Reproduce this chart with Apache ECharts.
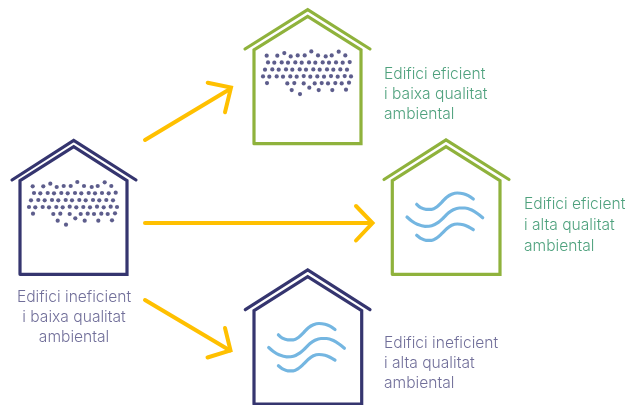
<!DOCTYPE html>
<html><head><meta charset="utf-8">
<style>html,body{margin:0;padding:0;background:#fff}#c{width:643px;height:405px}</style>
<script src="https://cdn.jsdelivr.net/npm/echarts@6/dist/echarts.min.js"></script>
</head><body><div id="c"></div>
<script>
var NAVY='#35356f',GREEN='#8fb23c',YELLOW='#ffc000',BLUE='#74b6e1',TXT_P='#4c4a80',TXT_G='#22895d';
// houses: [x,y] in the picture's units
var leftRoof=[[12,180],[73.7,140.3],[136,180]];
var leftWall=[[20,274.3],[20,180.7],[73.7,146.7],[127,180.7],[127,274.3],[20,274.3]];
var topRoof=[[245,49],[307.7,9.6],[370,49]];
var topWall=[[254,143.7],[254,50],[307.7,16.4],[361,50],[361,143.7],[254,143.7]];
var rightRoof=[[384,179.5],[446,139.8],[509,179.5]];
var rightWall=[[392.3,274.3],[392.3,180.7],[446,146.7],[500,180.7],[500,274.3],[392.3,274.3]];
var bottomRoof=[[245.3,309.7],[307.7,270],[370,309.7]];
var bottomWall=[[254,404],[254,310.7],[307.7,276.7],[361.7,310.7],[361.7,404],[254,404]];
// arrows
var arrowA=[[145,140],[230,89]];var arrowAHead=[[207.7,82.7],[231,87.5],[225,112.3]];
var arrowB=[[145,223],[371,223]];var arrowBHead=[[356,206],[372.5,223],[356,240.5]];
var arrowC=[[145,300],[230,350.5]];var arrowCHead=[[225,328],[230.5,350.5],[207.5,357.5]];
// dust dots, left house
var dotsLeft=[[32.7,186.3],[43.3,186.3],[50.3,183.7],[56.7,187],[63.7,186],[70.7,186],[77.3,182],[84,186],[91.7,187],[97.7,186],[104.7,182.3],[111.3,186],
[34,193],[40.3,193.3],[47.7,193],[54,193.3],[61.3,193],[67.7,193.3],[75,193],[81.3,193.3],[88.7,193],[95,193.3],[102,193],[108.7,193.3],[115.7,192.7],
[31,200.3],[38.3,200],[44.7,200.3],[52,200],[58.3,200.3],[65.7,200],[72,200.3],[79.3,200],[85.7,200.3],[93,200],[99.3,200.3],[106.3,200],[113,200.3],
[29,207],[35.3,207.3],[42.7,207],[49,207.3],[56.3,207],[62.7,207.3],[69.7,206.7],[76.3,207.3],[83.3,207],[90,207.3],[97,206.7],[103.7,207.3],[110.7,206.7],[117,207],
[33,213.7],[53.3,214],[60.3,213.7],[69.7,214],[80.7,214],[87.7,213.7],[94,214],[101.3,213.7],[107.7,214],[115,213.3],
[57.7,220.7],[75.3,218.3],[84.7,220.7],[98.3,220.7],[112,220.3],[66,224.7]];
// the same cloud, top house
var dotsTop=dotsLeft.map(function(p){return [p[0]+234,p[1]-130.6];});
// air waves, right house
var wave1=[[416.7,204.3],[420.7,207.7],[426,209.3],[431.7,209.3],[436.7,207],[441.7,202.3],[446.7,197.3],[451.7,194.3],[457.3,193],[463.3,193.7],[468.3,195.7],[473.3,199]];
var wave2=[[407,217],[411.7,221],[417.3,224.3],[425,226.3],[431.7,225.7],[438.3,222.3],[443.3,218],[448.3,213],[453.3,209.7],[459.3,208],[465,208],[471.7,210],[477.7,213.7],[482.7,217.7]];
var wave3=[[416.7,235.3],[420.7,238.3],[426,240.3],[431.7,240.3],[436.7,238],[441.7,233.7],[446.7,228.7],[451.7,225.3],[457.3,224],[463.3,224.7],[468.3,226.7],[473.3,229.7]];
var moved=function(a){return a.map(function(p){return [p[0]-138.3,p[1]+130.5];});};
// captions
var labels=[
 {x:74,y:297,t:'Edifici ineficient',c:TXT_P,a:'center'},{x:74,y:317,t:'i baixa qualitat',c:TXT_P,a:'center'},{x:74,y:337,t:'ambiental',c:TXT_P,a:'center'},
 {x:384,y:74,t:'Edifici eficient',c:TXT_G,a:'left'},{x:384,y:94,t:'i baixa qualitat',c:TXT_G,a:'left'},{x:384,y:114,t:'ambiental',c:TXT_G,a:'left'},
 {x:524,y:204,t:'Edifici eficient',c:TXT_G,a:'left'},{x:524,y:225,t:'i alta qualitat',c:TXT_G,a:'left'},{x:524,y:246,t:'ambiental',c:TXT_G,a:'left'},
 {x:384,y:343,t:'Edifici ineficient',c:TXT_P,a:'left'},{x:384,y:363,t:'i alta qualitat',c:TXT_P,a:'left'},{x:384,y:383,t:'ambiental',c:TXT_P,a:'left'}
];
function line(d,c,w,smooth){return {type:'line',data:d,showSymbol:false,symbol:'none',smooth:smooth||false,silent:true,animation:false,clip:false,
 lineStyle:{color:c,width:w,cap:'round',join:'miter'}};}
function dots(d){return {type:'scatter',data:d,symbolSize:4.2,itemStyle:{color:NAVY},silent:true,animation:false};}
var series=[
 line(leftRoof,NAVY,3.2),line(leftWall,NAVY,3.2),line(topRoof,GREEN,3.2),line(topWall,GREEN,3.2),
 line(rightRoof,GREEN,3.2),line(rightWall,GREEN,3.2),line(bottomRoof,NAVY,3.2),line(bottomWall,NAVY,3.2),
 line(arrowA,YELLOW,4),line(arrowAHead,YELLOW,4),line(arrowB,YELLOW,4),line(arrowBHead,YELLOW,4),line(arrowC,YELLOW,4),line(arrowCHead,YELLOW,4),
 dots(dotsLeft),dots(dotsTop),
 line(wave1,BLUE,3.2,0.3),line(wave2,BLUE,3.2,0.3),line(wave3,BLUE,3.2,0.3),
 line(moved(wave1),BLUE,3.2,0.3),line(moved(wave2),BLUE,3.2,0.3),line(moved(wave3),BLUE,3.2,0.3),
 {type:'scatter',symbolSize:0,silent:true,animation:false,
  data:labels.map(function(l){return {value:[l.x,l.y],label:{show:true,position:'inside',formatter:l.t,color:l.c,align:l.a,verticalAlign:'middle',fontFamily:'Inter',fontWeight:300,fontSize:15.6}};})}
];
var chart=echarts.init(document.getElementById('c'),null,{renderer:'canvas'});
chart.setOption({animation:false,backgroundColor:'#fff',
 grid:{left:0,right:0,top:0,bottom:0},
 xAxis:{type:'value',min:0,max:643,show:false},
 yAxis:{type:'value',min:0,max:405,inverse:true,show:false},
 series:series});
</script></body></html>
